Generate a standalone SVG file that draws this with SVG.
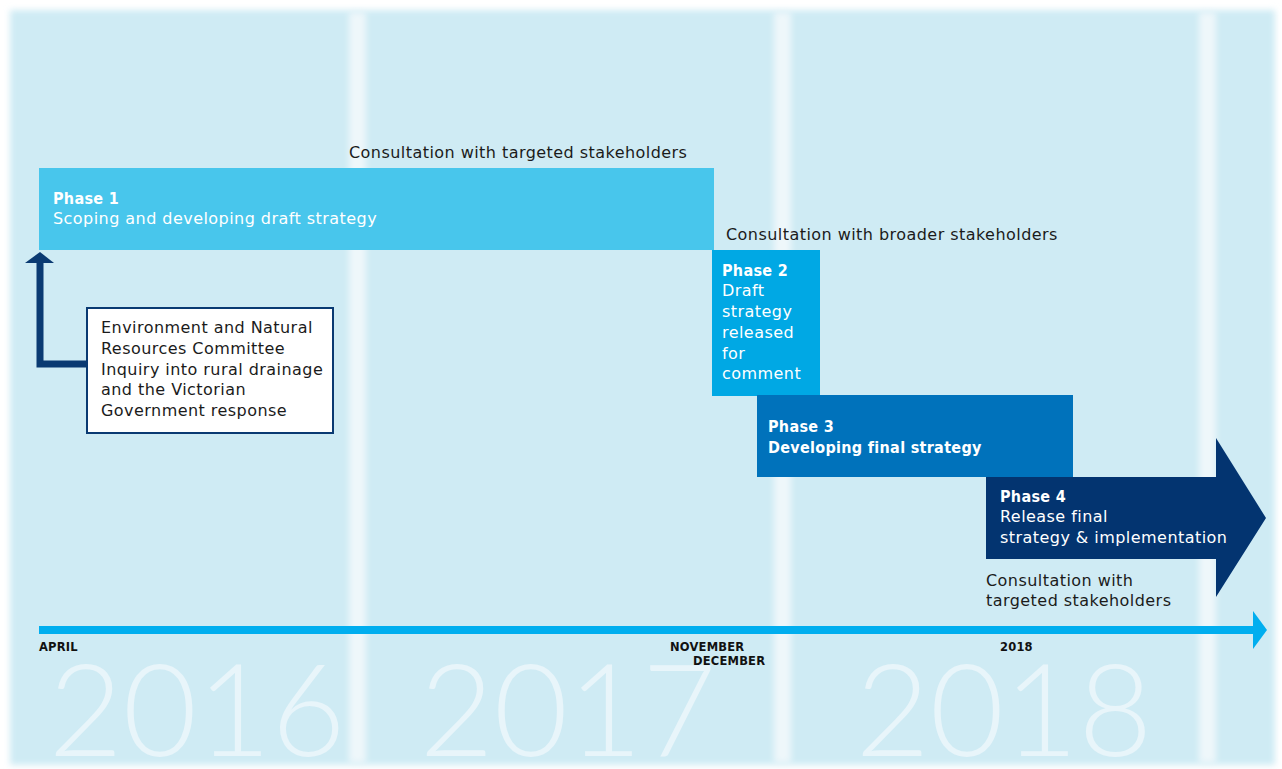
<svg xmlns="http://www.w3.org/2000/svg" width="1282" height="769" viewBox="0 0 1282 769">
<defs>
<filter id="soft" x="-5%" y="-5%" width="110%" height="110%"><feGaussianBlur stdDeviation="3"/></filter>
<filter id="soft2" x="-50%" y="-5%" width="200%" height="110%"><feGaussianBlur stdDeviation="3"/></filter>
<style>
.t{font-family:"DejaVu Sans","Liberation Sans",sans-serif;font-size:16px;letter-spacing:0.45px;fill:#1b1b1b}
.w{font-family:"DejaVu Sans","Liberation Sans",sans-serif;font-size:16px;letter-spacing:0.45px;fill:#ffffff}
.b{font-family:"DejaVu Sans Condensed","DejaVu Sans",sans-serif;font-weight:700;letter-spacing:0.3px}
.m{font-family:"DejaVu Sans","Liberation Sans",sans-serif;font-size:11.5px;font-weight:700;letter-spacing:0.2px;fill:#111}
.yr{font-family:"Lato","Open Sans",sans-serif;font-size:128px;font-weight:300;fill:#E8F5FA}
</style>
</defs>
<rect width="1282" height="769" fill="#ffffff"/>
<g id="background">
<rect x="10" y="10" width="1265" height="755" fill="#CFEBF4" filter="url(#soft)"/>
<rect x="349" y="12" width="17" height="751" fill="#EEF7FA" filter="url(#soft2)"/>
<rect x="774" y="12" width="17" height="751" fill="#EEF7FA" filter="url(#soft2)"/>
<rect x="1199" y="12" width="17" height="751" fill="#EEF7FA" filter="url(#soft2)"/>
</g>
<g id="years">
<text class="yr" x="197" y="756" text-anchor="middle">2016</text>
<text class="yr" x="568" y="756" text-anchor="middle">2017</text>
<text class="yr" x="1004" y="756" text-anchor="middle">2018</text>
</g>
<g id="phase1">
<rect x="39" y="168" width="675" height="82" fill="#48C6EC"/>
<text class="w b" x="53" y="204">Phase 1</text>
<text class="w" x="53" y="224">Scoping and developing draft strategy</text>
</g>
<g id="phase2">
<rect x="712" y="250" width="108" height="146" fill="#00A8E4"/>
<text class="w b" x="722" y="276">Phase 2</text>
<text class="w" x="722" y="296">Draft</text>
<text class="w" x="722" y="317">strategy</text>
<text class="w" x="722" y="338">released</text>
<text class="w" x="722" y="359">for</text>
<text class="w" x="722" y="379">comment</text>
</g>
<g id="phase3">
<rect x="757" y="395" width="316" height="82" fill="#0072BB"/>
<text class="w b" x="768" y="432">Phase 3</text>
<text class="w b" x="768" y="453">Developing final strategy</text>
</g>
<g id="phase4">
<path d="M986 477 H1216 V438 L1266 518 L1216 597 V559 H986 Z" fill="#033470"/>
<text class="w b" x="1000" y="502">Phase 4</text>
<text class="w" x="1000" y="522">Release final</text>
<text class="w" x="1000" y="543">strategy &amp; implementation</text>
</g>
<g id="inquiry">
<rect x="87" y="308" width="246" height="125" fill="#ffffff" stroke="#0A3A72" stroke-width="2"/>
<text class="t" x="101" y="333">Environment and Natural</text>
<text class="t" x="101" y="354">Resources Committee</text>
<text class="t" x="101" y="375">Inquiry into rural drainage</text>
<text class="t" x="101" y="395">and the Victorian</text>
<text class="t" x="101" y="416">Government response</text>
</g>
<g id="labels">
<text class="t" x="349" y="158">Consultation with targeted stakeholders</text>
<text class="t" x="726" y="240">Consultation with broader stakeholders</text>
<text class="t" x="986" y="586">Consultation with</text>
<text class="t" x="986" y="606">targeted stakeholders</text>
</g>
<g id="timeline">
<rect x="39" y="626" width="1215" height="8" fill="#00AEEF"/>
<path d="M1253 611 L1267 630 L1253 649 Z" fill="#00AEEF"/>
<text class="m" x="39" y="651">APRIL</text>
<text class="m" x="670" y="651">NOVEMBER</text>
<text class="m" x="693" y="665">DECEMBER</text>
<text class="m" x="1000" y="651">2018</text>
</g>
<g id="connectors">
<path d="M87 364 H40 V262" fill="none" stroke="#0A3A72" stroke-width="7"/>
<path d="M25 263 L40 252 L54 263 Z" fill="#0A3A72"/>
</g>
</svg>
